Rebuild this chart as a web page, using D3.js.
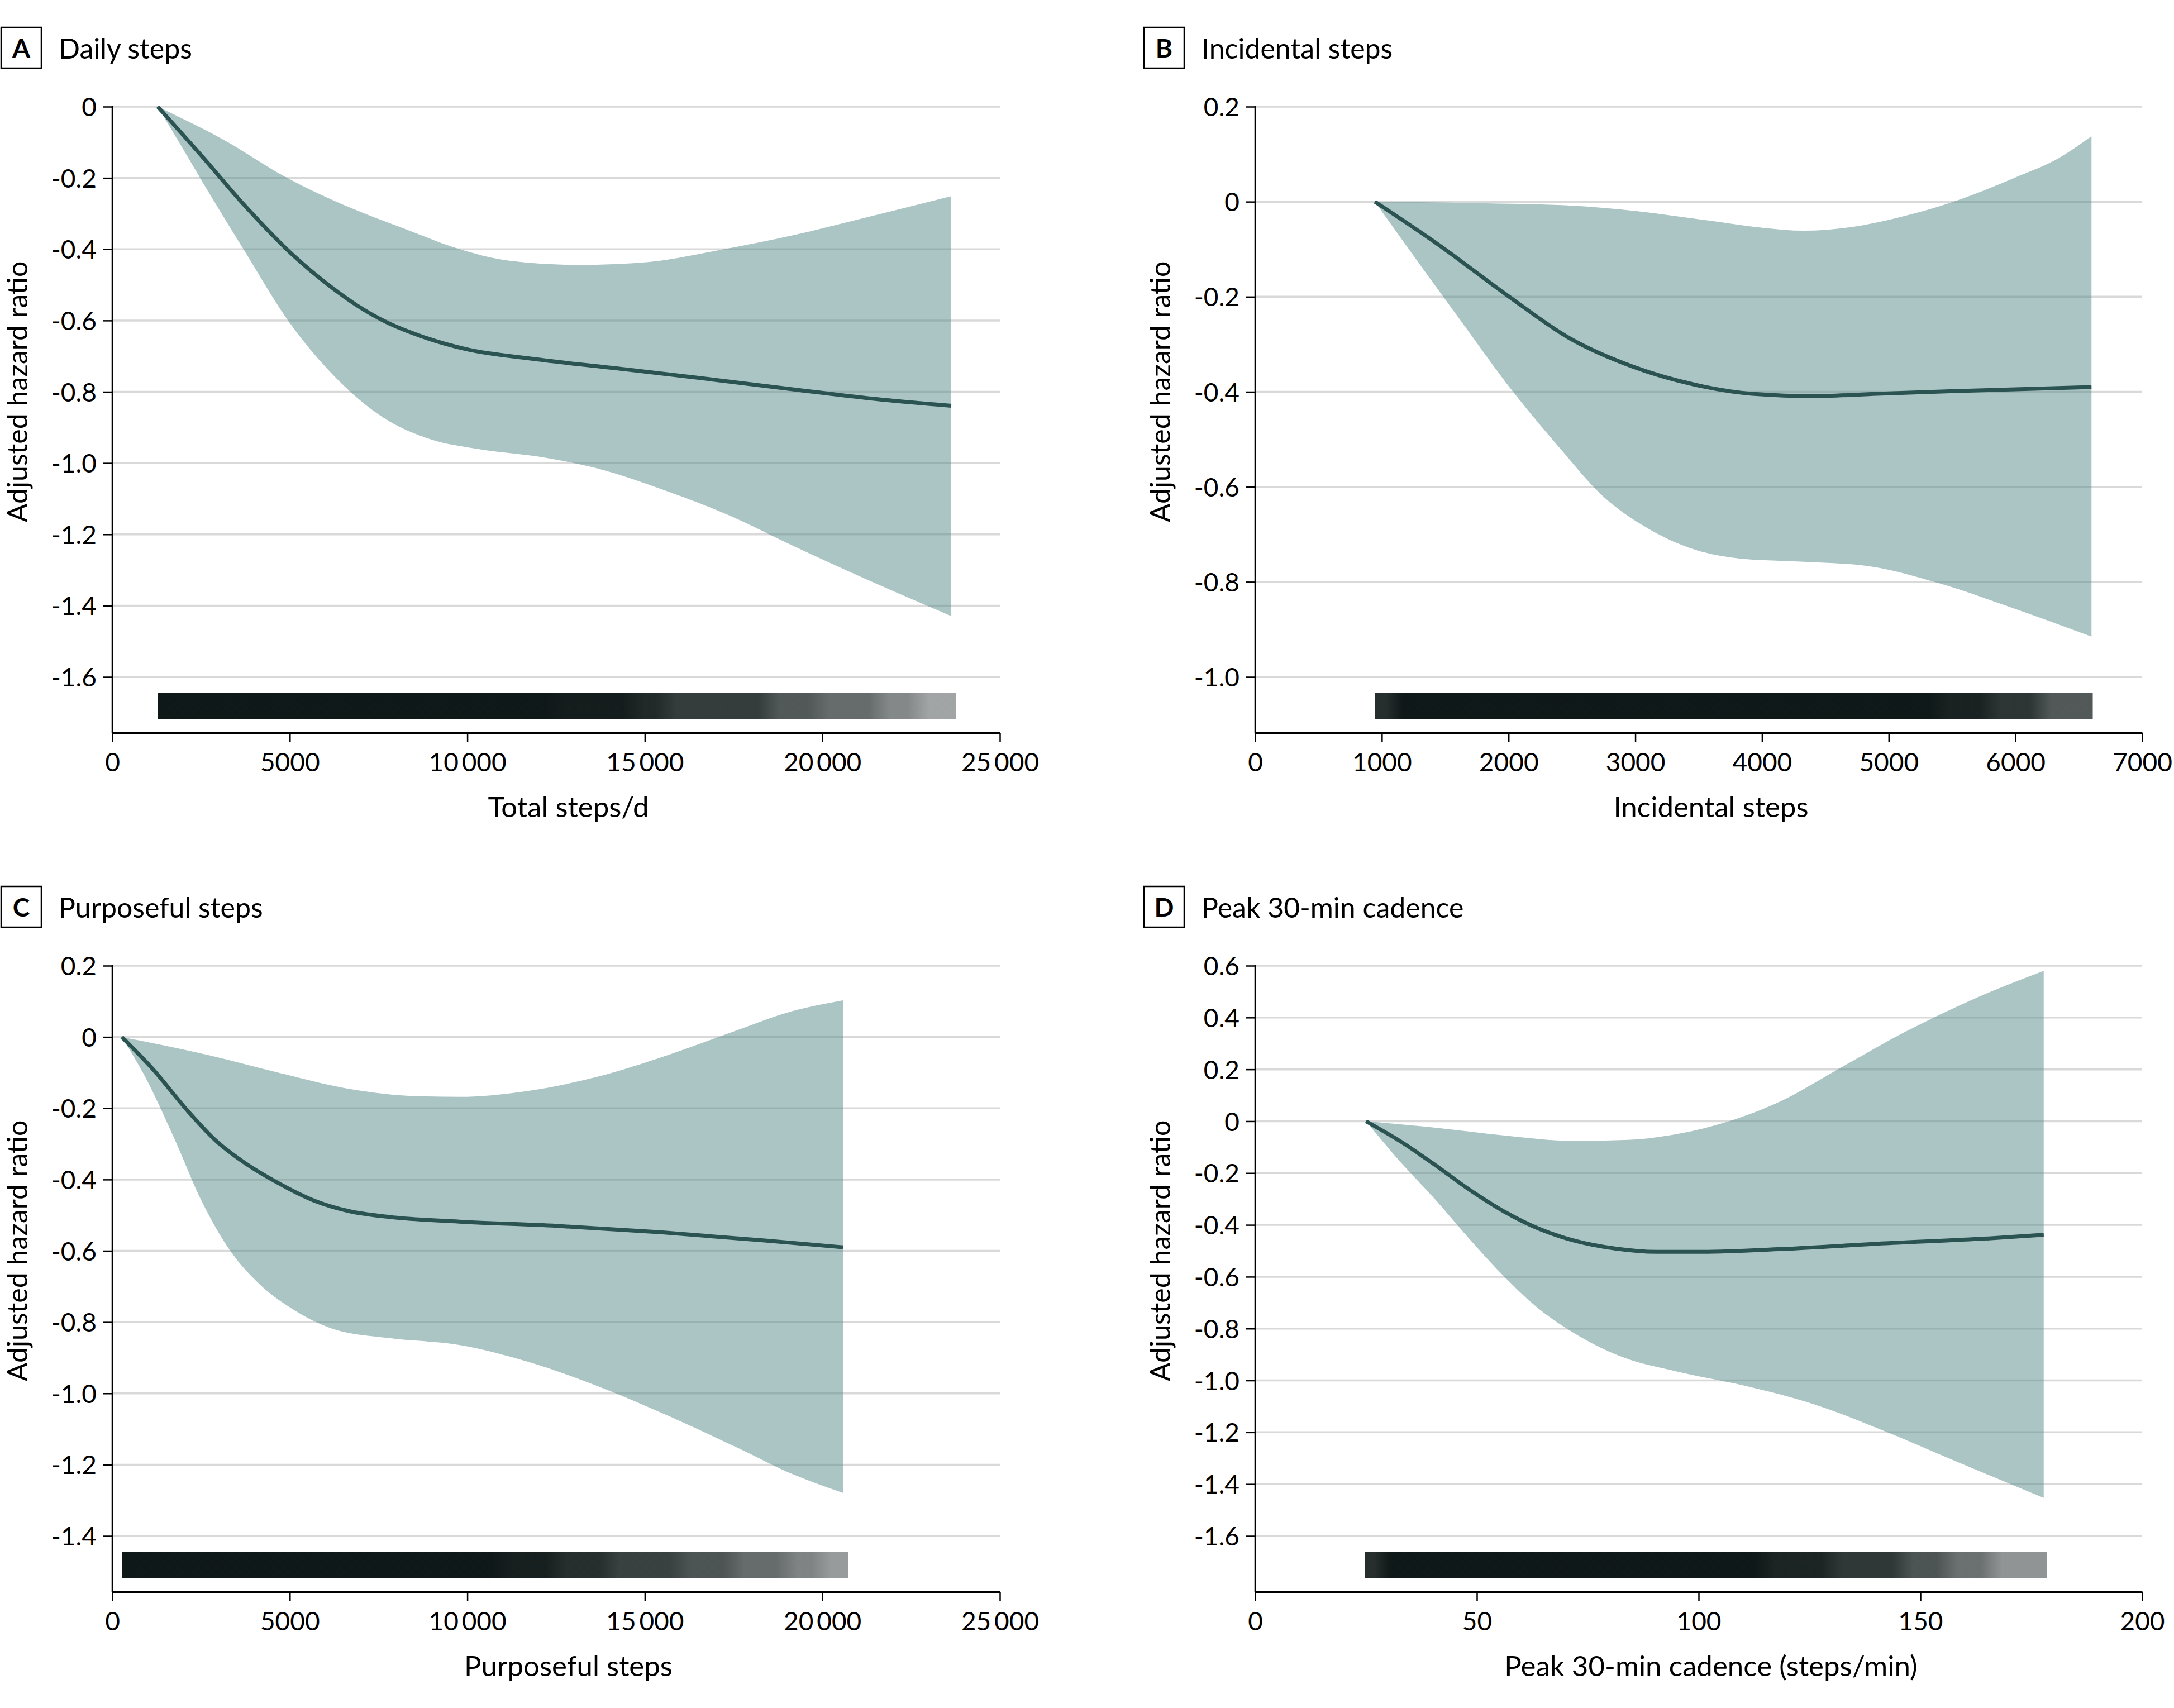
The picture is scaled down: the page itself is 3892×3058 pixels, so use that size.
<!DOCTYPE html>
<html><head><meta charset="utf-8">
<script src="https://cdn.jsdelivr.net/npm/d3@7"></script>
<style>
body{margin:0;background:#fff}
svg{display:block}
text{font-family:Lato,'Open Sans',sans-serif;fill:#000}
</style>
</head><body>
<svg id="chart" width="3892" height="3058"></svg>
<script>
// ---------------- DATA ----------------
const panelLetters = ["A", "B", "C", "D"];
const panelTitles = ["Daily steps", "Incidental steps", "Purposeful steps", "Peak 30-min cadence"];
const xLabels = ["Total steps/d", "Incidental steps", "Purposeful steps", "Peak 30-min cadence (steps/min)"];
const yLabel = "Adjusted hazard ratio";

const xTicksA = [0, 5000, 10000, 15000, 20000, 25000];
const xTicksB = [0, 1000, 2000, 3000, 4000, 5000, 6000, 7000];
const xTicksC = [0, 5000, 10000, 15000, 20000, 25000];
const xTicksD = [0, 50, 100, 150, 200];

const yTicksA = [0, -0.2, -0.4, -0.6, -0.8, -1.0, -1.2, -1.4, -1.6];
const yTicksB = [0.2, 0, -0.2, -0.4, -0.6, -0.8, -1.0];
const yTicksC = [0.2, 0, -0.2, -0.4, -0.6, -0.8, -1.0, -1.2, -1.4];
const yTicksD = [0.6, 0.4, 0.2, 0, -0.2, -0.4, -0.6, -0.8, -1.0, -1.2, -1.4, -1.6];

// Panel A: daily steps
const meanA = [[1280,0],[2570,-0.144],[3690,-0.273],[5140,-0.421],[6100,-0.501],[6900,-0.558],[7710,-0.604],[8670,-0.643],[9950,-0.680],[11880,-0.708],[14450,-0.737],[16860,-0.765],[19260,-0.794],[21670,-0.822],[23630,-0.839]];
const upperA = [[1280,0],[3210,-0.097],[4820,-0.194],[6740,-0.285],[8350,-0.347],[9630,-0.395],[11240,-0.433],[13160,-0.444],[15090,-0.436],[17020,-0.404],[19260,-0.359],[21510,-0.304],[23630,-0.251]];
const lowerA = [[1280,0],[1930,-0.108],[2810,-0.256],[3690,-0.399],[4980,-0.604],[5940,-0.723],[6740,-0.803],[7710,-0.877],[8990,-0.934],[10270,-0.960],[12200,-0.985],[13810,-1.019],[15410,-1.071],[17340,-1.145],[19260,-1.236],[21510,-1.338],[23630,-1.429]];
const rugA = [[1280,12500,0.97],[12500,14700,0.95],[14700,15600,0.9],[15600,18500,0.82],[18500,19900,0.7],[19900,21600,0.62],[21600,22700,0.5],[22700,23760,0.38]];

// Panel B: incidental steps
const meanB = [[945,0],[1450,-0.091],[1990,-0.197],[2480,-0.287],[2980,-0.347],[3470,-0.385],[3920,-0.404],[4420,-0.409],[4910,-0.404],[5590,-0.398],[6600,-0.390]];
const upperB = [[945,0],[1760,-0.003],[2480,-0.008],[3020,-0.020],[3560,-0.039],[4010,-0.055],[4330,-0.061],[4690,-0.054],[5050,-0.035],[5500,-0.001],[5990,0.050],[6350,0.093],[6600,0.138]];
const lowerB = [[945,0],[1270,-0.121],[1630,-0.253],[2030,-0.398],[2390,-0.514],[2750,-0.621],[3110,-0.689],[3470,-0.732],[3830,-0.751],[4280,-0.757],[4820,-0.766],[5360,-0.800],[5990,-0.856],[6600,-0.915]];
const rugB = [[945,1080,0.88],[1080,5400,0.97],[5400,5800,0.93],[5800,6200,0.85],[6200,6610,0.7]];

// Panel C: purposeful steps
const meanC = [[270,0],[1160,-0.092],[2130,-0.208],[2920,-0.291],[3700,-0.351],[4680,-0.410],[5660,-0.458],[6640,-0.488],[7810,-0.505],[9770,-0.518],[12510,-0.530],[15450,-0.548],[18380,-0.571],[20580,-0.590]];
const upperC = [[270,0],[2720,-0.051],[4680,-0.100],[6640,-0.145],[8590,-0.166],[9770,-0.168],[11730,-0.151],[13680,-0.111],[15640,-0.051],[17600,0.019],[19170,0.073],[20580,0.103]];
const lowerC = [[270,0],[960,-0.118],[1740,-0.283],[2530,-0.463],[3310,-0.598],[4090,-0.688],[5070,-0.763],[6250,-0.820],[7810,-0.845],[9770,-0.864],[11730,-0.912],[13680,-0.980],[15640,-1.062],[17600,-1.152],[19170,-1.227],[20580,-1.279]];
const rugC = [[270,11000,0.97],[11000,12500,0.94],[12500,14000,0.88],[14000,16000,0.8],[16000,17500,0.72],[17500,19000,0.62],[19000,20000,0.52],[20000,20730,0.42]];

// Panel D: peak 30-min cadence
const meanD = [[25,0],[32.8,-0.078],[40.6,-0.169],[48.4,-0.265],[56.2,-0.349],[64.0,-0.415],[71.8,-0.460],[81.1,-0.491],[90.5,-0.504],[99.8,-0.504],[118.6,-0.493],[142.0,-0.471],[165.4,-0.452],[177.8,-0.438]];
const upperD = [[25,0],[40.6,-0.025],[56.2,-0.055],[71.8,-0.076],[84.2,-0.072],[95.2,-0.049],[106.1,-0.004],[118.6,0.078],[132.6,0.212],[146.6,0.345],[162.2,0.473],[177.8,0.580]];
const lowerD = [[25,0],[32.8,-0.158],[40.6,-0.302],[48.4,-0.456],[56.2,-0.600],[64.0,-0.724],[71.8,-0.816],[82.7,-0.909],[95.2,-0.966],[110.8,-1.022],[126.4,-1.094],[142.0,-1.196],[157.6,-1.309],[177.8,-1.453]];
const rugD = [[24.8,28,0.88],[28,115,0.97],[115,130,0.92],[130,146,0.84],[146,156,0.72],[156,166,0.6],[166,178.5,0.45]];

// ---------------- LAYOUT ----------------
const cols = [{l: 201, r: 1790}, {l: 2247, r: 3835}];
const rows = [{top: 191, bot: 1212, axis: 1312}, {top: 1729, bot: 2750, axis: 2850}];

const panels = [
  {col: 0, row: 0, xTicks: xTicksA, yTicks: yTicksA, mean: meanA, upper: upperA, lower: lowerA, rug: rugA},
  {col: 1, row: 0, xTicks: xTicksB, yTicks: yTicksB, mean: meanB, upper: upperB, lower: lowerB, rug: rugB},
  {col: 0, row: 1, xTicks: xTicksC, yTicks: yTicksC, mean: meanC, upper: upperC, lower: lowerC, rug: rugC},
  {col: 1, row: 1, xTicks: xTicksD, yTicks: yTicksD, mean: meanD, upper: upperD, lower: lowerD, rug: rugD}
];

const svg = d3.select("#chart");
const defs = svg.append("defs");
const BAND = "#578989", LINE = "#2a5352", GRID = "#d9d9d9", RUG = "#081111";

const fmtY = v => (Math.abs(v) < 1e-9 ? "0" : d3.format(".1f")(v).replace("\u2212", "-"));
const fmtX = v => (v >= 10000 ? d3.format(",")(v).replace(",", "\u2009") : String(v));

panels.forEach((p, i) => {
  const c = cols[p.col], r = rows[p.row];
  const x = d3.scaleLinear().domain([p.xTicks[0], p.xTicks[p.xTicks.length - 1]]).range([c.l, c.r]);
  const y = d3.scaleLinear().domain([p.yTicks[p.yTicks.length - 1], p.yTicks[0]]).range([r.bot, r.top]);
  const g = svg.append("g");

  // header
  g.append("rect").attr("x", c.l - 199).attr("y", r.top - 142).attr("width", 72).attr("height", 73)
    .attr("fill", "none").attr("stroke", "#000").attr("stroke-width", 2.5);
  g.append("text").attr("x", c.l - 163).attr("y", r.top - 88).attr("text-anchor", "middle")
    .attr("font-size", 46).attr("font-weight", 700).text(panelLetters[i]);
  g.append("text").attr("x", c.l - 96).attr("y", r.top - 86).attr("font-size", 50).text(panelTitles[i]);

  // gridlines
  g.append("g").selectAll("line").data(p.yTicks).join("line")
    .attr("x1", c.l).attr("x2", c.r).attr("y1", d => y(d)).attr("y2", d => y(d))
    .attr("stroke", GRID).attr("stroke-width", 3.5);

  // band
  const edge = d3.line().x(d => x(d[0])).y(d => y(d[1])).curve(d3.curveMonotoneX);
  const up = edge(p.upper);
  const lo = edge(p.lower.slice().reverse()).replace(/^M/, "L");
  g.append("path").attr("d", up + lo + "Z").attr("fill", BAND).attr("fill-opacity", 0.5);

  // mean line
  g.append("path").attr("d", edge(p.mean)).attr("fill", "none").attr("stroke", LINE)
    .attr("stroke-width", 7).attr("stroke-linejoin", "round");

  // rug (density shading read from the observation rug)
  const span = x.domain()[1] - x.domain()[0];
  const x0 = x(p.rug[0][0]), x1 = x(p.rug[p.rug.length - 1][1]);
  const grad = defs.append("linearGradient").attr("id", "rug" + i)
    .attr("gradientUnits", "userSpaceOnUse").attr("x1", x0).attr("x2", x1).attr("y1", 0).attr("y2", 0);
  const stops = [];
  p.rug.forEach((d, k) => {
    const m = Math.min((d[1] - d[0]) * 0.35, span * 0.012);
    stops.push([k === 0 ? d[0] : d[0] + m, d[2]]);
    stops.push([k === p.rug.length - 1 ? d[1] : d[1] - m, d[2]]);
  });
  grad.selectAll("stop").data(stops).join("stop")
    .attr("offset", d => (x(d[0]) - x0) / (x1 - x0))
    .attr("stop-color", RUG).attr("stop-opacity", d => d[1]);
  g.append("rect").attr("x", x0).attr("width", x1 - x0)
    .attr("y", r.axis - 72).attr("height", 47).attr("fill", `url(#rug${i})`);

  // y axis
  const ya = g.append("g").attr("transform", `translate(${c.l},0)`)
    .call(d3.axisLeft(y).tickValues(p.yTicks).tickFormat(fmtY).tickSize(16).tickPadding(12).tickSizeOuter(0));
  ya.select(".domain").remove();
  ya.selectAll(".tick line").attr("stroke", "#000").attr("stroke-width", 2.5);
  ya.selectAll(".tick text").attr("font-size", 46).attr("font-family", "Lato,'Open Sans',sans-serif").attr("fill", "#000").attr("dy", "0.36em");
  g.append("line").attr("x1", c.l).attr("x2", c.l).attr("y1", r.top - 1).attr("y2", r.axis)
    .attr("stroke", "#000").attr("stroke-width", 2.5);

  // x axis
  const xa = g.append("g").attr("transform", `translate(0,${r.axis})`)
    .call(d3.axisBottom(x).tickValues(p.xTicks).tickFormat(fmtX).tickSize(16).tickPadding(20).tickSizeOuter(0));
  xa.select(".domain").attr("stroke", "#000").attr("stroke-width", 3);
  xa.selectAll(".tick line").attr("stroke", "#000").attr("stroke-width", 2.5);
  xa.selectAll(".tick text").attr("font-size", 46).attr("font-family", "Lato,'Open Sans',sans-serif").attr("fill", "#000");

  // axis labels
  g.append("text").attr("x", (c.l + c.r) / 2 + 22).attr("y", r.axis + 151).attr("text-anchor", "middle")
    .attr("font-size", 51).text(xLabels[i]);
  g.append("text").attr("transform", `translate(${c.l - 152},${(r.top + r.bot) / 2}) rotate(-90)`)
    .attr("text-anchor", "middle").attr("font-size", 50).text(yLabel);
});
</script>
</body></html>
